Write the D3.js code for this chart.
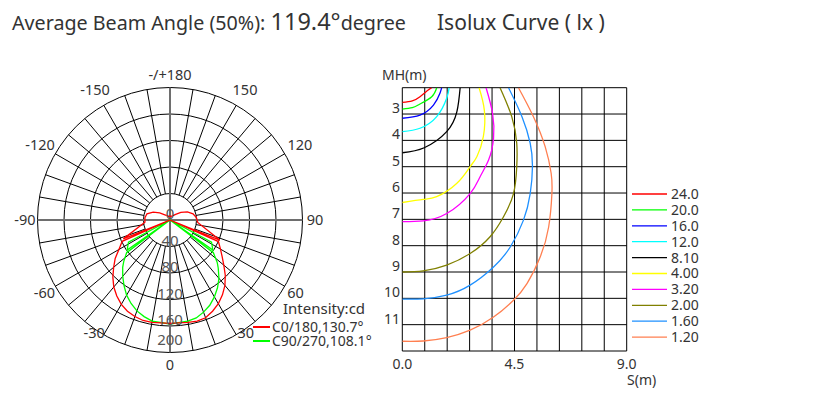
<!DOCTYPE html>
<html>
<head>
<meta charset="utf-8">
<script src="https://cdn.jsdelivr.net/npm/d3@7"></script>
<style>
    body { margin: 0; background: #fff; }
    svg { display: block; font-family: "Noto Sans", "Open Sans", sans-serif; }
</style>
</head>
<body>
<div id="chart-area"></div>
<script>
// ---- polar (intensity) data: [angle deg (0 = straight down, + to the right), cd]
const angleLabels = [0, 30, 60, 90, 120, 150, 180, -150, -120, -90, -60, -30];
const ringValues = [40, 80, 120, 160, 200];
const ringLabels = [0, 40, 80, 120, 160, 200];
const c0Curve = [
    [-180, 6], [-160, 6], [-145, 8], [-135, 11], [-125, 19], [-115, 28], [-105, 36], [-95, 38], [-85, 38],
    [-68, 76], [-68, 0], [-66, 79], [-60, 89], [-55, 101], [-50, 111], [-45, 122], [-40, 132], [-35, 140],
    [-30, 147], [-25, 152], [-20, 155], [-15, 157], [-10, 157], [0, 156], [10, 157], [15, 158], [20, 157],
    [25, 152], [30, 146], [35, 138], [40, 129], [45, 118], [50, 106], [55, 96], [60, 88], [66, 80], [68, 0],
    [68, 81], [85, 42], [95, 40], [105, 36], [115, 29], [125, 20], [135, 12], [145, 8], [160, 6], [180, 6]
];
const c90Curve = [
    [-180, 0], [-64, 0], [-62, 71], [-55, 79], [-55, 0], [-53, 82], [-48, 94], [-45, 101], [-40, 111],
    [-35, 121], [-30, 131], [-25, 139], [-20, 146], [-15, 151], [-10, 155], [0, 157], [10, 155], [15, 153],
    [20, 148], [25, 142], [30, 134], [35, 125], [40, 115], [45, 103], [48, 96], [53, 82], [55, 0], [55, 79],
    [62, 71], [64, 0], [180, 0]
];
const polarLegend = ["C0/180,130.7°", "C90/270,108.1°"];

// ---- isolux data: [S (m), MH (m)], left axis -> top edge
const isoLevels = ["24.0", "20.0", "16.0", "12.0", "8.10", "4.00", "3.20", "2.00", "1.60", "1.20"];
const isoCurves = [
    [[0, 2.56], [0.4, 2.5], [0.71, 2.34], [1.04, 2.09], [1.18, 2.0]],
    [[0, 2.81], [0.4, 2.76], [0.71, 2.62], [1.18, 2.34], [1.38, 2.0]],
    [[0, 3.16], [0.71, 3.04], [1.25, 2.66], [1.51, 2.21], [1.58, 2.0]],
    [[0, 3.67], [0.71, 3.54], [1.38, 3.10], [1.78, 2.40], [1.88, 2.0]],
    [[0, 4.47], [0.88, 4.28], [1.78, 3.67], [2.19, 2.91], [2.32, 2.0]],
    [[0, 6.36], [0.84, 6.24], [1.38, 6.14], [2.19, 5.63], [2.72, 5.0], [2.99, 4.62], [3.25, 3.86], [3.29, 2.85], [3.08, 2.0]],
    [[0, 7.09], [0.84, 7.06], [1.78, 6.78], [2.72, 6.02], [3.12, 5.38], [3.46, 4.75], [3.66, 3.92], [3.62, 2.97], [3.36, 2.0]],
    [[0, 9.0], [0.84, 8.96], [1.78, 8.74], [2.72, 8.30], [3.52, 7.66], [4.06, 6.90], [4.46, 6.02], [4.59, 5.0], [4.59, 4.11], [4.39, 3.10], [3.92, 2.0]],
    [[0, 10.03], [0.84, 10.02], [1.78, 9.88], [2.72, 9.50], [3.66, 8.81], [4.33, 8.05], [4.86, 7.03], [5.13, 6.02], [5.22, 5.0], [5.13, 4.11], [4.80, 3.10], [4.26, 2.0]],
    [[0, 11.63], [0.84, 11.62], [1.78, 11.49], [2.72, 11.21], [3.66, 10.71], [4.46, 10.07], [5.0, 9.44], [5.53, 8.43], [5.87, 7.29], [6.0, 6.02], [5.97, 5.25], [5.73, 4.24], [5.26, 3.10], [4.66, 2.0]]
];
const sTicks = [0, 4.5, 9];
const mhTicks = [3, 4, 5, 6, 7, 8, 9, 10, 11];

// ---- styles / layout
const WIDTH = 827,
    HEIGHT = 395,
    CX = 170, CY = 220, R_OUT = 132.5,
    GRID_LEFT = 402.3, GRID_RIGHT = 626.7, GRID_TOP = 87.7, GRID_BOTTOM = 351,
    TEXT = '#333',
    ISO_COLORS = ['#ff0000', '#00ff00', '#0000ff', '#00ffff', '#000000', '#ffff00', '#ff00ff', '#808000', '#1e90ff', '#ff7f50'],
    POLAR_COLORS = ['#ff0000', '#00ff00'];

const svg = d3.select("#chart-area")
    .append("svg")
    .attr("width", WIDTH)
    .attr("height", HEIGHT);

// ---- headings
const head = svg.append("text").attr("x", 12).attr("y", 30).attr("fill", TEXT);
head.append("tspan").attr("font-size", 19.7).text("Average Beam Angle (50%): ");
head.append("tspan").attr("font-size", 23.5).text("119.4°");
head.append("tspan").attr("font-size", 19.7).text("degree");

svg.append("text")
    .attr("x", 437).attr("y", 30)
    .attr("font-size", 21)
    .attr("fill", TEXT)
    .text("Isolux Curve ( lx )");

// ---- polar chart
const rScale = d3.scaleLinear().domain([0, 200]).range([0, R_OUT]);
const rad = a => (180 - a) * Math.PI / 180;
const pt = (a, r) => [CX + r * Math.sin(rad(a)), CY - r * Math.cos(rad(a))];
// angle labels sit just outside the rim; the two lower +/-30 ones are pulled in
const labelPos = a => Math.abs(a) === 30 ? pt(a * 1.13, 136)
    : Math.abs(a) === 120 || Math.abs(a) === 150 ? pt(a, 150) : pt(a, 145);

const polar = svg.append("g");

polar.append("g")
    .selectAll("circle")
    .data(ringValues)
    .join("circle")
    .attr("cx", CX).attr("cy", CY)
    .attr("r", d => rScale(d))
    .attr("fill", "none")
    .attr("stroke", "#000");

polar.append("g")
    .selectAll("line")
    .data(d3.range(-170, 180, 10).filter(a => a % 90 !== 0))
    .join("line")
    .attr("x1", a => pt(a, rScale(ringValues[0]))[0])
    .attr("y1", a => pt(a, rScale(ringValues[0]))[1])
    .attr("x2", a => pt(a, R_OUT)[0])
    .attr("y2", a => pt(a, R_OUT)[1])
    .attr("stroke", "#000");

polar.append("g")
    .selectAll("line")
    .data([0, 90])
    .join("line")
    .attr("x1", a => pt(a, R_OUT)[0])
    .attr("y1", a => pt(a, R_OUT)[1])
    .attr("x2", a => pt(a + 180, R_OUT)[0])
    .attr("y2", a => pt(a + 180, R_OUT)[1])
    .attr("stroke", "#6e6e6e")
    .attr("stroke-width", 2);

const radial = d3.lineRadial()
    .angle(d => rad(d[0]))
    .radius(d => rScale(d[1]));

polar.append("g")
    .attr("transform", `translate(${CX},${CY})`)
    .selectAll("path")
    .data([c90Curve, c0Curve])
    .join("path")
    .attr("d", radial)
    .attr("fill", "none")
    .attr("stroke", (d, i) => POLAR_COLORS[1 - i])
    .attr("stroke-width", 1.3);

polar.append("g")
    .selectAll("text")
    .data(ringLabels)
    .join("text")
    .attr("x", CX)
    .attr("y", d => d === 0 ? CY - 1 : d === 200 ? CY + rScale(d) - 8 : CY + rScale(d) - 1)
    .attr("text-anchor", "middle")
    .attr("font-size", 15)
    .attr("fill", "#555")
    .text(d => d);

polar.append("g")
    .selectAll("text")
    .data(angleLabels)
    .join("text")
    .attr("x", a => labelPos(a)[0])
    .attr("y", a => labelPos(a)[1])
    .attr("dy", "0.35em")
    .attr("text-anchor", "middle")
    .attr("font-size", 14.5)
    .attr("fill", TEXT)
    .text(a => a === 180 ? "-/+180" : a);

svg.append("text")
    .attr("x", 283).attr("y", 314)
    .attr("font-size", 15)
    .attr("fill", TEXT)
    .text("Intensity:cd");

const pLeg = svg.append("g")
    .selectAll("g")
    .data(polarLegend)
    .join("g")
    .attr("transform", (d, i) => `translate(253,${327 + i * 14})`);
pLeg.append("line")
    .attr("x1", 0).attr("x2", 17)
    .attr("stroke", (d, i) => POLAR_COLORS[i])
    .attr("stroke-width", 2);
pLeg.append("text")
    .attr("x", 19).attr("dy", "0.35em")
    .attr("font-size", 14)
    .attr("fill", TEXT)
    .text(d => d);

// ---- isolux chart
const x = d3.scaleLinear().domain([0, 9]).range([GRID_LEFT, GRID_RIGHT]);
const y = d3.scaleLinear().domain([2, 12]).range([GRID_TOP, GRID_BOTTOM]);

const iso = svg.append("g");

iso.append("g")
    .selectAll("line")
    .data(d3.range(0, 11).map(i => i * 0.9))
    .join("line")
    .attr("x1", d => x(d)).attr("x2", d => x(d))
    .attr("y1", GRID_TOP).attr("y2", GRID_BOTTOM)
    .attr("stroke", "#000");

iso.append("g")
    .selectAll("line")
    .data(d3.range(2, 13))
    .join("line")
    .attr("y1", d => y(d)).attr("y2", d => y(d))
    .attr("x1", GRID_LEFT).attr("x2", GRID_RIGHT)
    .attr("stroke", "#000");

svg.append("clipPath")
    .attr("id", "grid-clip")
    .append("rect")
    .attr("x", GRID_LEFT).attr("y", GRID_TOP)
    .attr("width", GRID_RIGHT - GRID_LEFT).attr("height", GRID_BOTTOM - GRID_TOP);

const isoLine = d3.line()
    .x(d => x(d[0]))
    .y(d => y(d[1]))
    .curve(d3.curveNatural);

iso.append("g")
    .attr("clip-path", "url(#grid-clip)")
    .selectAll("path")
    .data(isoCurves)
    .join("path")
    .attr("d", isoLine)
    .attr("fill", "none")
    .attr("stroke", (d, i) => ISO_COLORS[i])
    .attr("stroke-width", 1.3);

iso.append("g")
    .selectAll("text")
    .data(mhTicks)
    .join("text")
    .attr("x", 400)
    .attr("y", d => y(d) - 1)
    .attr("text-anchor", "end")
    .attr("font-size", 14)
    .attr("fill", TEXT)
    .text(d => d);

iso.append("g")
    .selectAll("text")
    .data(sTicks)
    .join("text")
    .attr("x", d => x(d))
    .attr("y", 369)
    .attr("text-anchor", "middle")
    .attr("font-size", 14)
    .attr("fill", TEXT)
    .text(d => d.toFixed(1));

svg.append("text")
    .attr("x", 382).attr("y", 80)
    .attr("font-size", 14)
    .attr("fill", TEXT)
    .text("MH(m)");

svg.append("text")
    .attr("x", 627).attr("y", 385)
    .attr("font-size", 14)
    .attr("fill", TEXT)
    .text("S(m)");

const iLeg = svg.append("g")
    .selectAll("g")
    .data(isoLevels)
    .join("g")
    .attr("transform", (d, i) => `translate(632,${194 + i * 15.9})`);
iLeg.append("line")
    .attr("x1", 0).attr("x2", 35)
    .attr("stroke", (d, i) => ISO_COLORS[i])
    .attr("stroke-width", 1.3);
iLeg.append("text")
    .attr("x", 39).attr("dy", "0.35em")
    .attr("font-size", 14)
    .attr("fill", TEXT)
    .text(d => d);
</script>
</body>
</html>
